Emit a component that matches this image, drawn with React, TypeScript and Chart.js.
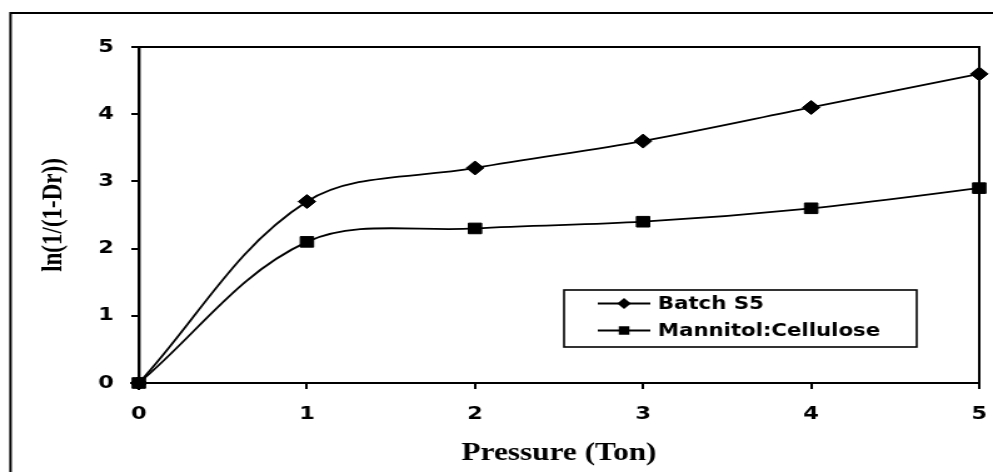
import { useEffect, useRef } from 'react';
import { Chart, registerables } from 'chart.js';

Chart.register(...registerables);

// ---- data ----
const pressure = [0, 1, 2, 3, 4, 5];
const batchS5 = [0, 2.7, 3.2, 3.6, 4.1, 4.6];
const mannitolCellulose = [0, 2.1, 2.3, 2.4, 2.6, 2.9];
const seriesLabels = ['Batch S5', 'Mannitol:Cellulose'];
const seriesMarkers = ['rectRot', 'rect'];
const xTitle = 'Pressure (Ton)';
const yTitle = 'ln(1/(1-Dr))';
const xRange = [0, 5];
const yRange = [0, 5];
const tickStep = 1;

// internal drawing size (the picture is stretched horizontally in display)
const W = 794;
const H = 472;

function drawMarker(ctx: CanvasRenderingContext2D, style: string, x: number, y: number, r: number) {
  ctx.beginPath();
  if (style === 'rectRot') {
    ctx.moveTo(x, y - r);
    ctx.lineTo(x + r, y);
    ctx.lineTo(x, y + r);
    ctx.lineTo(x - r, y);
    ctx.closePath();
  } else {
    const s = r * Math.SQRT1_2;
    ctx.rect(x - s, y - s, 2 * s, 2 * s);
  }
  ctx.fill();
}

const framePlugin = {
  id: 'frame',
  beforeDraw(chart: any) {
    const ctx = chart.ctx;
    ctx.save();
    ctx.fillStyle = '#fff';
    ctx.fillRect(0, 0, chart.width, chart.height);
    ctx.lineWidth = 2;
    ctx.strokeStyle = '#000';
    ctx.strokeRect(8.4, 13, 3000, 3000);
    ctx.restore();
  },
  beforeDatasetsDraw(chart: any) {
    const { ctx, chartArea } = chart;
    ctx.save();
    ctx.lineWidth = 2;
    ctx.strokeStyle = '#000';
    ctx.beginPath();
    ctx.moveTo(chartArea.left, chartArea.top);
    ctx.lineTo(chartArea.right, chartArea.top);
    ctx.lineTo(chartArea.right, chartArea.bottom);
    ctx.stroke();
    ctx.restore();
  },
};

const boxLegendPlugin = {
  id: 'boxLegend',
  afterDraw(chart: any) {
    const ctx = chart.ctx;
    const x0 = 451, y0 = 290, w = 282, h = 57;
    ctx.save();
    ctx.lineWidth = 1.6;
    ctx.strokeStyle = '#000';
    ctx.strokeRect(x0, y0, w, h);
    chart.data.datasets.forEach((ds: any, i: number) => {
      const cy = y0 + 13.5 + i * 27;
      ctx.beginPath();
      ctx.moveTo(x0 + 27, cy);
      ctx.lineTo(x0 + 69, cy);
      ctx.lineWidth = 1.8;
      ctx.strokeStyle = '#000';
      ctx.stroke();
      ctx.fillStyle = '#000';
      drawMarker(ctx, ds.pointStyle, x0 + 48, cy, ds.pointStyle === 'rectRot' ? 5.5 : 6);
      ctx.font = 'bold 17px "DejaVu Sans"';
      ctx.textBaseline = 'middle';
      ctx.textAlign = 'left';
      ctx.fillText(ds.label, x0 + 75, cy + 1);
    });
    ctx.restore();
  },
};

export default function App() {
  const ref = useRef<HTMLCanvasElement | null>(null);

  useEffect(() => {
    if (!ref.current) return;
    const series = [batchS5, mannitolCellulose];
    const chart = new Chart(ref.current, {
      type: 'line',
      data: {
        datasets: series.map((vals, i) => ({
          label: seriesLabels[i],
          data: pressure.map((p, j) => ({ x: p, y: vals[j] })),
          borderColor: '#000',
          backgroundColor: '#000',
          borderWidth: 1.8,
          pointStyle: seriesMarkers[i],
          pointRadius: seriesMarkers[i] === 'rectRot' ? 7 : 7.5,
          pointBorderWidth: 1,
          pointBackgroundColor: '#000',
          pointBorderColor: '#000',
          tension: 0.35,
          fill: false,
          clip: false,
        })),
      },
      options: {
        responsive: false,
        animation: false,
        devicePixelRatio: 1,
        layout: { padding: { left: 0, top: 47, right: 11, bottom: 0 } },
        plugins: {
          legend: { display: false },
          tooltip: { enabled: false },
        },
        scales: {
          x: {
            type: 'linear',
            min: xRange[0],
            max: xRange[1],
            afterFit: (s: any) => {
              s.height = 89;
              s.paddingLeft = 0;
              s.paddingRight = 0;
            },
            ticks: {
              stepSize: tickStep,
              color: '#000',
              padding: 15,
              font: { family: 'DejaVu Sans', weight: 'bold', size: 18 },
            },
            grid: { display: true, drawOnChartArea: false, drawTicks: true, tickLength: 6, color: '#000', lineWidth: 2 },
            border: { display: true, color: '#000', width: 2 },
            title: {
              display: true,
              text: xTitle,
              color: '#000',
              font: { family: 'Liberation Serif', weight: 'bold', size: 25 },
              padding: { top: 0, bottom: 3 },
            },
          },
          y: {
            type: 'linear',
            min: yRange[0],
            max: yRange[1],
            afterFit: (s: any) => {
              s.width = 111;
              s.paddingTop = 0;
              s.paddingBottom = 0;
            },
            ticks: {
              stepSize: tickStep,
              color: '#000',
              padding: 14,
              font: { family: 'DejaVu Sans', weight: 'bold', size: 18 },
            },
            grid: { display: true, drawOnChartArea: false, drawTicks: true, tickLength: 6, color: '#000', lineWidth: 2 },
            border: { display: true, color: '#000', width: 2.4 },
            title: {
              display: true,
              text: yTitle,
              color: '#000',
              font: { family: 'Liberation Serif', weight: 'bold', size: 23 },
              padding: { top: 29, bottom: 0 },
            },
          },
        },
      },
      plugins: [framePlugin, boxLegendPlugin],
    } as any);
    return () => chart.destroy();
  }, []);

  return (
    <div style={{ position: 'absolute', left: 0, top: 0, width: 993, height: 472 }}>
      <canvas ref={ref} width={W} height={H} style={{ width: '993px', height: '472px', display: 'block' }} />
    </div>
  );
}
